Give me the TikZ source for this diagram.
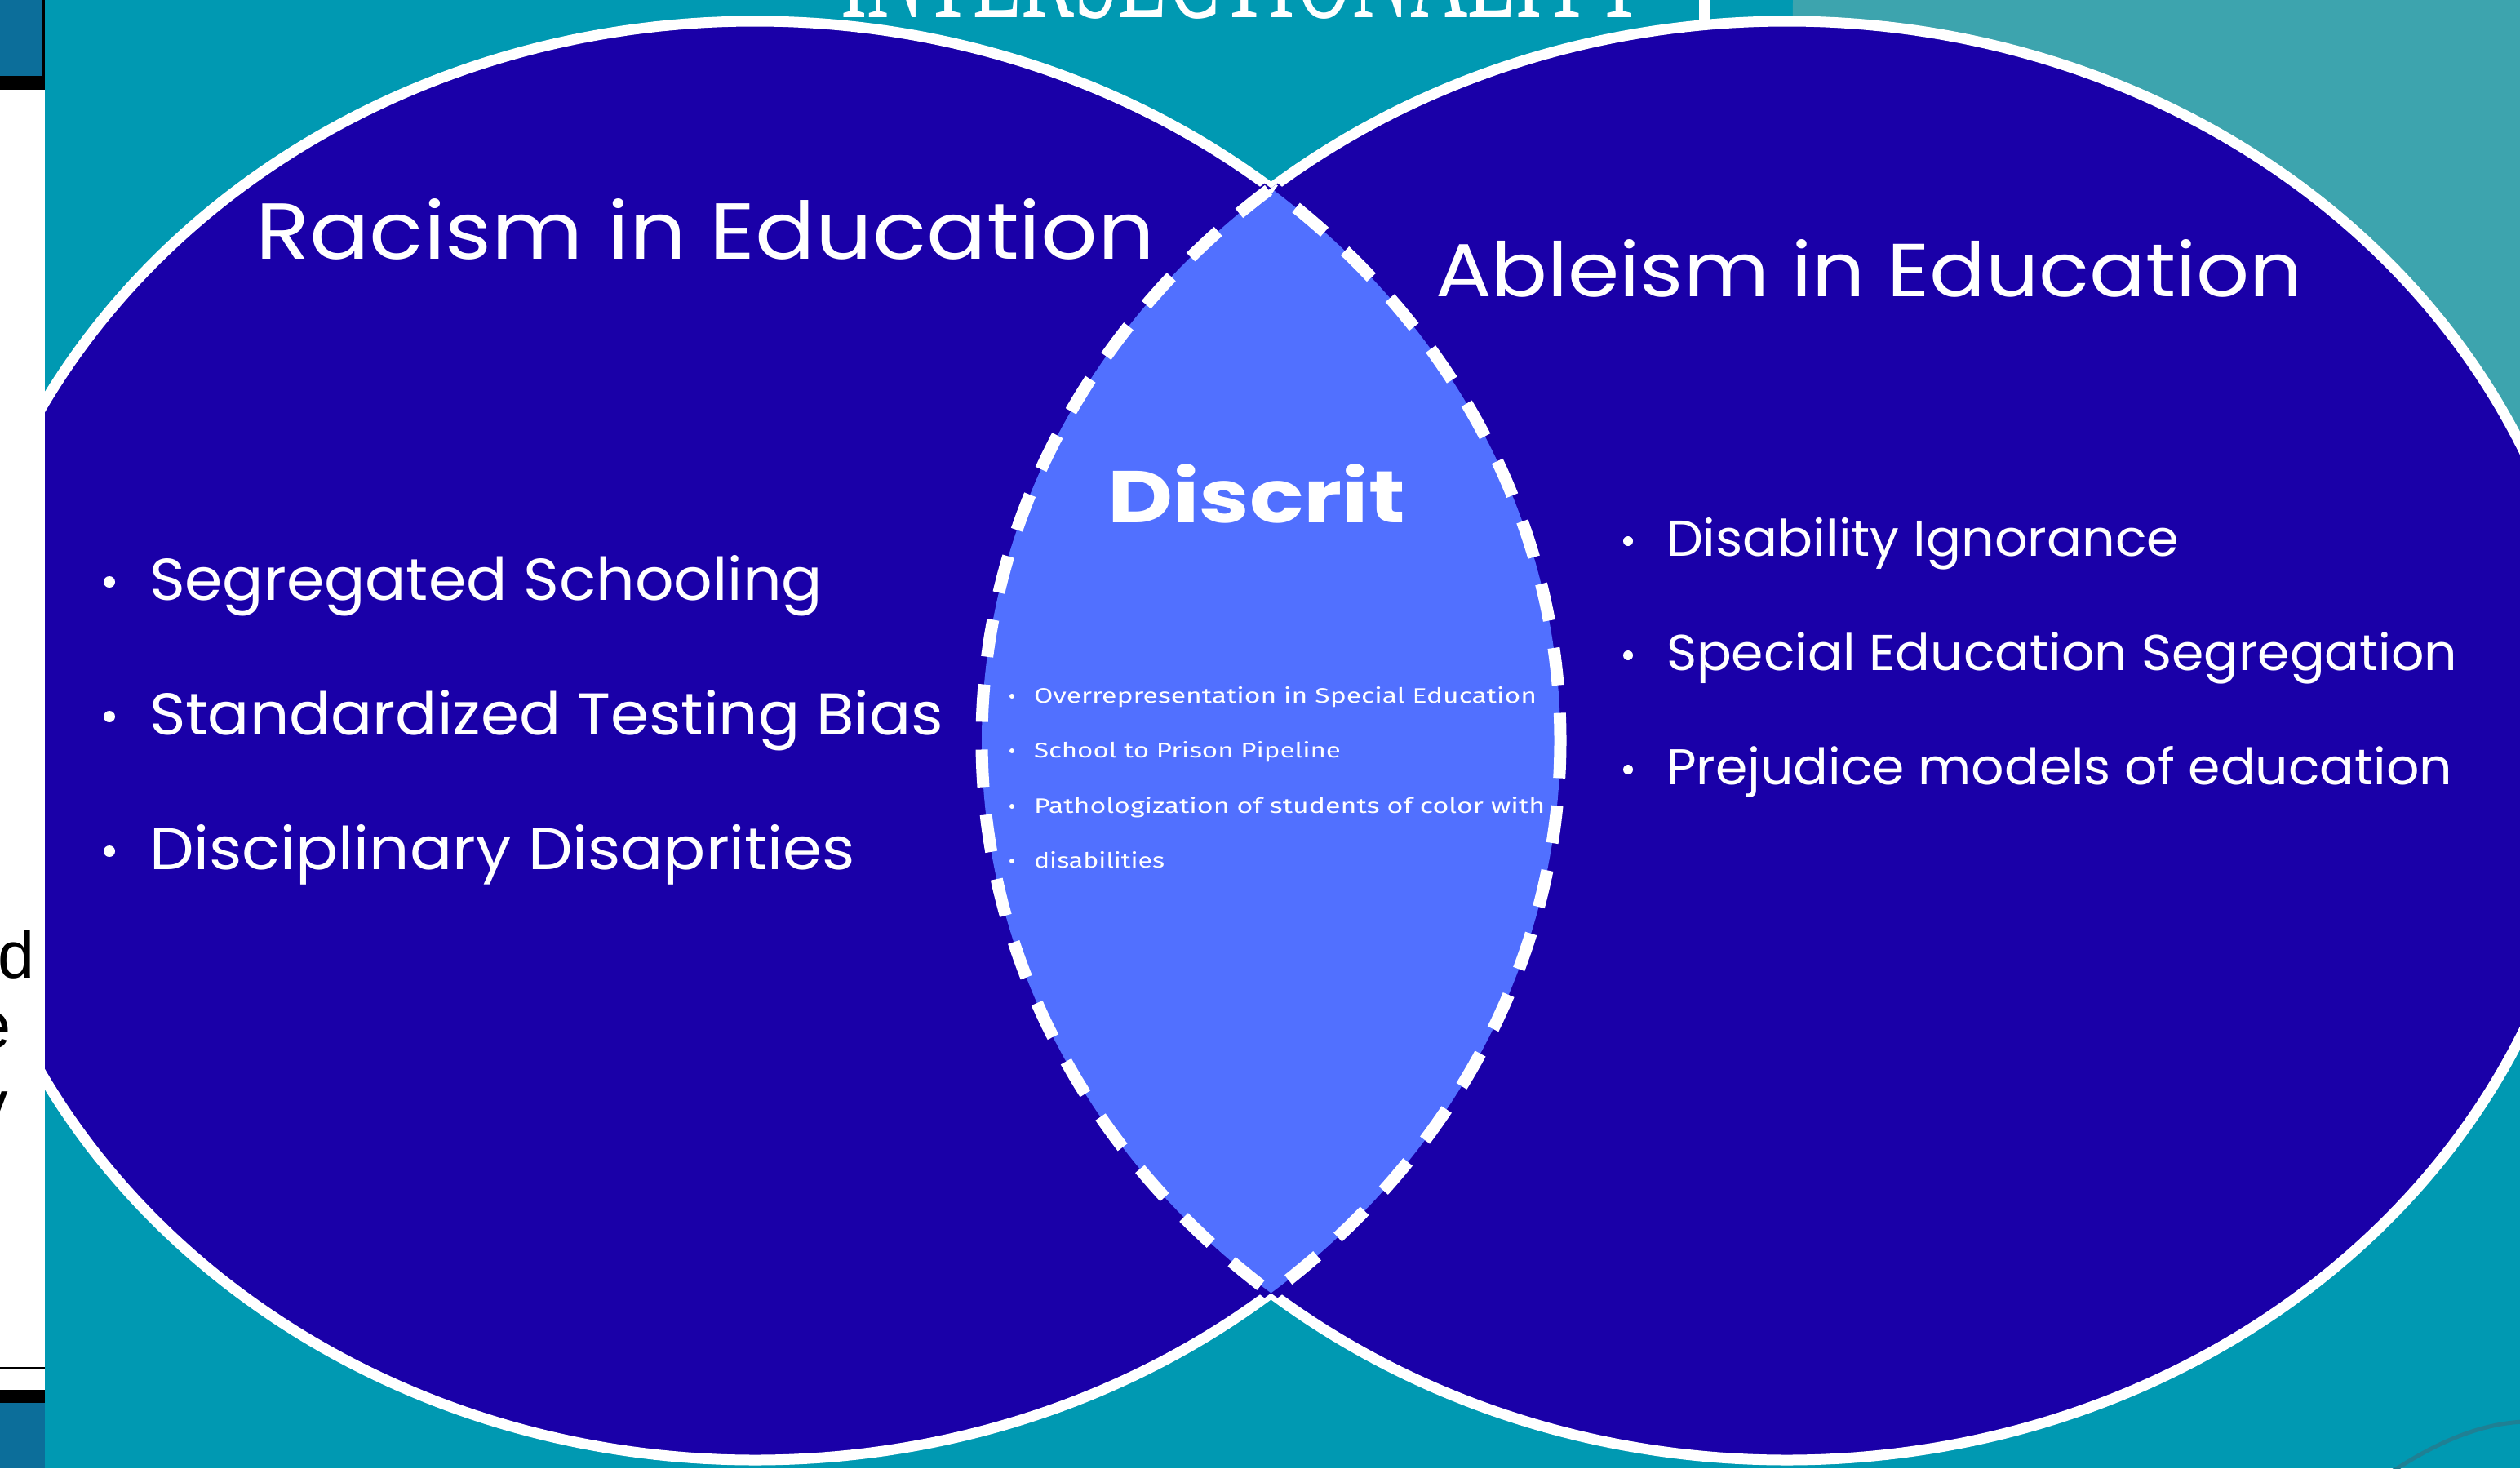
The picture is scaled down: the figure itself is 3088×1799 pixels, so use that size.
\documentclass[tikz,border=0pt]{standalone}
\usepackage{fontspec}
\usepackage{graphicx}
\newfontfamily\headf{Poppins}
\newfontfamily\lensf{Fira Sans}
\newfontfamily\titlef{Liberation Serif}
\newfontfamily\arialf{Liberation Sans}
\definecolor{bgteal}{HTML}{0099B2}
\definecolor{ltteal}{HTML}{3DA4AE}
\definecolor{indig}{HTML}{1A00A8}
\definecolor{lensblue}{HTML}{5170FF}
\definecolor{boxblue}{HTML}{0C6E9A}
\definecolor{arcteal}{HTML}{1F8094}
\newcommand\rsz[3]{\resizebox{#1pt}{#2pt}{#3}}
\begin{document}
\begin{tikzpicture}[x=1pt,y=-1pt,
  txt/.style={inner sep=0pt, outer sep=0pt, text=white, anchor=base west},
  dotmark/.style={circle, fill=white, inner sep=0pt, minimum size=#1},
  striptxt/.style={inner sep=0pt, outer sep=0pt, text=black, anchor=base east,
    font=\arialf\fontsize{81}{90}\selectfont}]
\def\Lell{(925.5,907.5) ellipse [x radius=986.5, y radius=881.5]}
\def\Rell{(2189.5,907.5) ellipse [x radius=986.5, y radius=881.5]}
\useasboundingbox (0,0) rectangle (3088,1799);
\clip (0,0) rectangle (3088,1799);
% background
\fill[bgteal] (0,0) rectangle (3088,1799);
\fill[ltteal] (2197,0) -- (3088,0) -- (3088,950) -- (2190,950) -- cycle;
\draw[arcteal, line width=5pt] (2933,1802) .. controls (2975,1775) and (3030,1745) .. (3092,1742);
% title (clipped at the top edge)
\begin{scope}
  \clip (55,0) rectangle (3088,60);
  \node[txt] (title) at (1030,21) {\rsz{990}{130}{\titlef INTERSECTIONALITY}};
\end{scope}
\fill[white] (2082,0) rectangle (2095,40);
% circles
\fill[indig] \Lell;
\draw[white, line width=13pt] \Lell;
\fill[indig] \Rell;
\draw[white, line width=13pt] \Rell;
% lens
\begin{scope}\clip \Lell; \draw[indig, line width=19pt] \Rell; \end{scope}
\begin{scope}\clip \Rell; \draw[indig, line width=19pt] \Lell; \end{scope}
\begin{scope}\clip \Lell; \fill[lensblue] \Rell; \end{scope}
\begin{scope}\clip \Lell; \draw[white, line width=15pt, dash pattern=on 46pt off 34pt] \Rell; \end{scope}
\begin{scope}\clip \Rell; \draw[white, line width=15pt, dash pattern=on 46pt off 34pt] \Lell; \end{scope}
% headings
\node[txt] (racism) at (313,317) {\rsz{1101}{74}{\headf Racism in Education}};
\node[txt] (ableism) at (1759,363) {\rsz{1062}{70}{\headf Ableism in Education}};
\node[txt] (discrit) at (1357,640) {\rsz{365}{72}{\headf\bfseries Discrit}};
% left list
\node[dotmark=14pt] (l1b) at (134,713) {};
\node[txt] (l1) at (183,735) {\rsz{825}{55}{\headf Segregated Schooling}};
\node[dotmark=14pt] (l2b) at (134,878) {};
\node[txt] (l2) at (183,900) {\rsz{973}{55}{\headf Standardized Testing Bias}};
\node[dotmark=14pt] (l3b) at (134,1043) {};
\node[txt] (l3) at (183,1065) {\rsz{865}{55}{\headf Disciplinary Disaprities}};
% right list
\node[dotmark=12pt] (r1b) at (1995,663) {};
\node[txt] (r1) at (2042,681) {\rsz{628}{47}{\headf Disability Ignorance}};
\node[dotmark=12pt] (r2b) at (1995,803) {};
\node[txt] (r2) at (2042,821) {\rsz{969}{47}{\headf Special Education Segregation}};
\node[dotmark=12pt] (r3b) at (1995,943) {};
\node[txt] (r3) at (2042,961) {\rsz{963}{47}{\headf Prejudice models of education}};
% lens list
\node[dotmark=6pt] (c1b) at (1240,853) {};
\node[txt] (c1) at (1267,861) {\rsz{616}{20}{\lensf Overrepresentation in Special Education}};
\node[dotmark=6pt] (c2b) at (1240,920) {};
\node[txt] (c2) at (1267,928) {\rsz{376}{20}{\lensf School to Prison Pipeline}};
\node[dotmark=6pt] (c3b) at (1240,988) {};
\node[txt] (c3) at (1267,996) {\rsz{626}{20}{\lensf Pathologization of students of color with}};
\node[dotmark=6pt] (c4b) at (1240,1055) {};
\node[txt] (c4) at (1267,1063) {\rsz{160}{20}{\lensf disabilities}};
% left strip of the neighbouring window
\fill[white] (0,0) rectangle (55,1799);
\fill[boxblue] (0,0) rectangle (52,93);
\fill[black] (52,0) rectangle (55,110);
\fill[black] (0,93) rectangle (55,110);
\fill[black] (0,1675) rectangle (55,1678);
\fill[black] (0,1703) rectangle (55,1719);
\fill[boxblue] (0,1719) rectangle (55,1799);
\begin{scope}
  \clip (0,0) rectangle (55,1799);
  \node[striptxt] (sd) at (43,1198) {d};
  \node[striptxt] (se) at (14,1284) {e};
  \node[striptxt] (sy) at (10,1380) {y};
\end{scope}
\end{tikzpicture}
\end{document}
